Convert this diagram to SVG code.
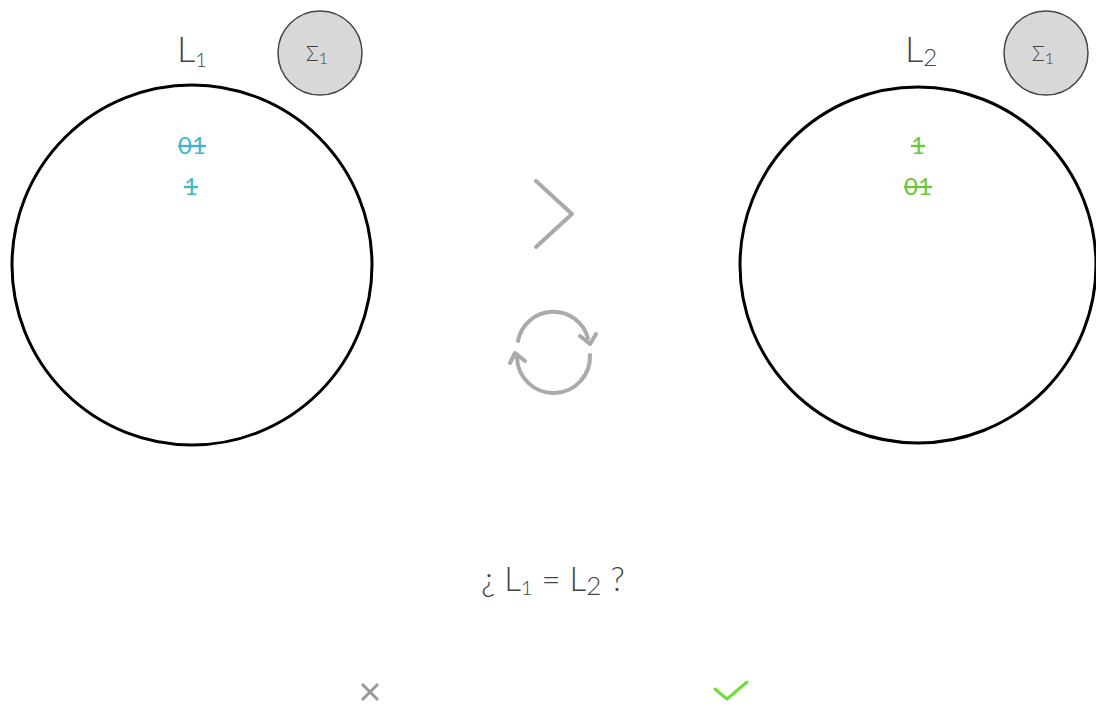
<svg xmlns="http://www.w3.org/2000/svg" width="1096" height="716" viewBox="0 0 1096 716">
<style>
.big{fill:none;stroke:#000;stroke-width:3}
.sig{fill:#d8d8d8;stroke:#444;stroke-width:1.5}
.lbl{font-family:Lato,"Liberation Sans",sans-serif;font-weight:300;fill:#444}
.w{font-family:Lato,"Liberation Sans",sans-serif;font-size:24px;text-anchor:middle;text-decoration:line-through}
.blue{fill:#45b5c9}
.green{fill:#6cc63a}
.icon{fill:none;stroke:#aaa;stroke-width:4;stroke-linecap:round;stroke-linejoin:round}
</style>
<rect width="1096" height="716" fill="#fff"/>
<g id="L1">
<circle class="big" cx="192" cy="265" r="180"/>
<text class="lbl" x="177" y="62" font-size="36">L<tspan font-size="20" dy="5">1</tspan></text>
<text class="w blue" x="192" y="154">01</text>
<text class="w blue" x="191" y="195">1</text>
</g>
<g id="sigma1">
<circle class="sig" cx="320" cy="53" r="42"/>
<text class="lbl" x="306" y="61" font-size="21">Σ<tspan font-size="16" dy="3">1</tspan></text>
</g>
<g id="L2">
<circle class="big" cx="918" cy="265" r="178"/>
<text class="lbl" x="905" y="62" font-size="36">L<tspan font-size="24" dy="4">2</tspan></text>
<text class="w green" x="918" y="154">1</text>
<text class="w green" x="918" y="195">01</text>
</g>
<g id="sigma2">
<circle class="sig" cx="1046" cy="53" r="42"/>
<text class="lbl" x="1032" y="61" font-size="21">Σ<tspan font-size="16" dy="3">1</tspan></text>
</g>
<g id="connectors">
<polyline class="icon" points="536,181 572,214 536,247"/>
<g id="refresh" class="icon">
<path d="M518,341 A36,36 0 0 1 588,338"/>
<polyline points="580,336 590,344 596,334"/>
<path d="M590,355 A36,36 0 0 1 517,358"/>
<polyline points="525,361 515,353 510,363"/>
</g>
</g>
<g id="question">
<text class="lbl" x="553" y="591" font-size="33" text-anchor="middle">¿ L<tspan font-size="20" dy="4">1</tspan><tspan dy="-4"> = L</tspan><tspan font-size="26" dy="4">2</tspan><tspan dy="-4"> ?</tspan></text>
</g>
<g id="no">
<path d="M362,684 L378,700 M378,684 L362,700" stroke="#999" stroke-width="3" fill="none"/>
</g>
<g id="yes">
<path d="M715,689 L727,699 L747,682" stroke="#6ee03a" stroke-width="3" fill="none" stroke-linecap="round" stroke-linejoin="round"/>
</g>
</svg>
